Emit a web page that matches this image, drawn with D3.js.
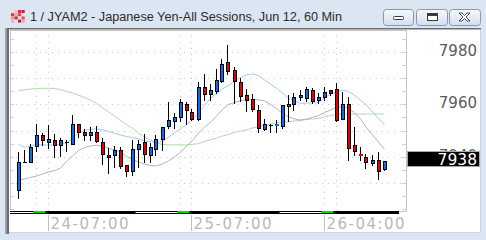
<!DOCTYPE html>
<html><head><meta charset="utf-8">
<script src="https://cdn.jsdelivr.net/npm/d3@7"></script>
<style>html,body{margin:0;padding:0;background:#dce6f2;overflow:hidden}</style>
</head><body>
<svg id="c" width="486" height="240" xmlns="http://www.w3.org/2000/svg"></svg>
<script>
const titleText = "1 / JYAM2 - Japanese Yen-All Sessions, Jun 12, 60 Min";
const opens  = [7927.1,7938.0,7937.9,7944.2,7948.3,7945.5,7946.3,7944.4,7945.7,7944.7,7952.4,7949.4,7948.2,7949.3,7945.5,7940.6,7940.5,7942.4,7936.8,7934.7,7942.8,7945.5,7940.6,7942.8,7946.6,7951.7,7953.7,7955.0,7960.0,7957.0,7954.5,7966.5,7963.8,7965.1,7969.0,7976.0,7973.1,7968.4,7963.4,7961.9,7957.8,7950.5,7952.1,7952.0,7951.8,7959.5,7960.0,7962.6,7962.5,7965.5,7961.5,7962.7,7965.3,7965.7,7954.3,7960.1,7944.5,7941.0,7939.8,7937.7,7938.6,7935.2];
const closes = [7937.9,7938.0,7943.7,7948.3,7946.5,7946.6,7944.4,7946.4,7945.7,7952.4,7949.3,7948.2,7949.4,7946.1,7940.9,7939.7,7942.5,7936.6,7934.7,7942.9,7944.8,7940.9,7943.6,7946.7,7951.2,7954.0,7955.1,7960.8,7957.7,7954.3,7966.5,7963.8,7965.3,7969.3,7975.4,7972.8,7969.0,7963.3,7961.6,7958.1,7951.1,7952.4,7952.1,7952.5,7959.6,7960.0,7962.7,7963.5,7965.8,7961.3,7962.7,7964.6,7964.4,7954.0,7960.1,7943.4,7942.3,7940.5,7937.9,7938.6,7934.7,7938.5];
const highs  = [7941.9,7942.4,7944.8,7952.5,7949.2,7952.2,7948.5,7947.0,7946.4,7955.9,7952.4,7950.7,7951.3,7951.7,7947.0,7943.3,7944.1,7943.8,7936.8,7946.4,7946.4,7948.7,7945.1,7948.3,7951.2,7960.9,7956.7,7962.0,7960.8,7958.2,7968.4,7971.6,7967.6,7973.4,7977.2,7982.6,7974.4,7969.9,7965.7,7963.8,7959.7,7954.3,7952.4,7954.0,7959.6,7963.5,7964.4,7965.5,7966.7,7966.2,7964.4,7966.5,7965.3,7968.2,7964.8,7962.9,7951.5,7943.6,7941.0,7940.6,7941.7,7938.5];
const lows   = [7924.4,7938.0,7937.9,7942.2,7944.5,7943.4,7939.8,7940.3,7942.2,7944.7,7947.4,7946.4,7946.5,7945.6,7937.1,7933.9,7935.9,7935.7,7932.8,7932.9,7935.9,7938.1,7937.9,7940.5,7942.4,7951.0,7951.0,7953.6,7952.4,7954.0,7954.1,7961.8,7961.6,7964.4,7968.4,7971.5,7960.6,7961.3,7957.6,7957.4,7949.3,7950.2,7949.3,7949.3,7951.1,7953.7,7957.8,7961.5,7961.1,7960.5,7960.5,7961.6,7963.5,7953.6,7954.3,7938.7,7940.6,7938.7,7935.8,7936.8,7931.4,7935.0];
// moving averages (light blue, grey, light green)
const maBlue  = [7944.7,7943.6,7944.1,7944.7,7944.5,7944.5,7944.5,7944.7,7945.2,7947.1,7949.0,7950.0,7950.5,7950.6,7950.2,7949.6,7949.0,7948.3,7947.7,7947.3,7946.8,7946.0,7945.7,7945.5,7946.0,7947.5,7949.2,7950.6,7952.3,7954.0,7956.7,7959.7,7962.3,7964.1,7965.8,7967.2,7968.9,7970.2,7971.2,7971.6,7971.0,7969.3,7967.7,7966.1,7964.3,7962.3,7961.3,7960.4,7960.4,7960.5,7960.7,7962.4,7963.9,7964.8,7965.3,7964.9,7963.5,7961.6,7959.7,7957.1,7954.6,7952.1];
const maGrey  = [7931.1,7931.5,7932.1,7932.6,7933.4,7934.2,7934.7,7935.6,7938.2,7940.3,7942.4,7943.5,7944.1,7944.4,7944.1,7943.3,7942.6,7941.8,7940.1,7938.9,7938.0,7937.2,7936.6,7936.5,7937.2,7938.4,7939.9,7941.6,7944.1,7946.2,7949.0,7951.3,7953.1,7955.5,7958.0,7959.9,7960.7,7961.4,7961.8,7961.9,7961.7,7961.3,7959.9,7958.4,7956.5,7955.2,7954.4,7954.0,7954.4,7955.0,7955.7,7956.9,7957.8,7958.8,7959.1,7958.6,7956.7,7954.4,7951.0,7948.3,7945.6,7942.8];
const maGreen = [7965.3,7965.5,7965.8,7966.0,7966.1,7966.1,7966.0,7965.6,7964.9,7964.3,7963.5,7962.6,7961.6,7960.3,7958.6,7957.1,7955.5,7953.8,7952.3,7950.8,7949.0,7947.5,7946.3,7945.2,7944.7,7944.5,7944.5,7944.5,7944.5,7944.7,7945.0,7945.8,7946.4,7947.1,7947.9,7948.5,7949.2,7949.8,7950.2,7951.0,7951.5,7952.1,7952.5,7952.9,7953.2,7953.4,7953.6,7953.8,7954.2,7954.4,7954.6,7955.2,7955.7,7956.2,7956.3,7956.3,7956.3,7956.3,7956.3,7956.3,7956.3,7956.3];
const yTickValues = [7940, 7960, 7980];
const lastPrice = 7938;
const xTickIndex  = [5, 29, 51];
const xTickLabels = ["24-07:00", "25-07:00", "26-04:00"];
const vGridIndex = [3, 5, 27, 29, 51, 53];
// session strip: [from index, to index, kind]
const sessions = [[-2, 2.5, "w"], [2.5, 4.5, "g"], [4.5, 19.5, "b"], [19.5, 26.5, "w"], [26.5, 28.5, "g"], [28.5, 43.5, "b"], [43.5, 50.5, "w"], [50.5, 52.5, "g"], [52.5, 63.5, "b"]];

const svg = d3.select("#c");
const W = 486, H = 240;
const plot = {l: 10, t: 30, r: 406, b: 211};

// window background
svg.append("rect").attr("width", W).attr("height", H).attr("fill", "#dce6f2");
const defs = svg.append("defs");
const g1 = defs.append("linearGradient").attr("id", "btn").attr("x1", 0).attr("y1", 0).attr("x2", 0).attr("y2", 1);
g1.append("stop").attr("offset", "0%").attr("stop-color", "#f6f9fd");
g1.append("stop").attr("offset", "100%").attr("stop-color", "#d3dfee");

// icon
const icon = svg.append("g").attr("transform", "translate(11,10)");
const iconCells = [[0,1,"#e03040"],[1,1,"#f0a0a8"],[3,0,"#d02030"],[2,1,"#e04050"],[0,2,"#f09098"],[1,2,"#d82838"],[3,2,"#e05060"],[2,3,"#d02030"],[0,3,"#f0b0b8"],[3,3,"#f0a0a8"],[1,0,"#f0c0c8"],[2,0,"#e03040"]];
iconCells.forEach(c => icon.append("rect").attr("x", c[0]*3.5).attr("y", c[1]*3.2).attr("width", 3.2).attr("height", 3).attr("fill", c[2]));

// title
svg.append("text").attr("x", 30).attr("y", 20.5).attr("font-family", "Liberation Sans, Arial, sans-serif")
  .attr("font-size", 12.5).attr("fill", "#2a2a2a").attr("textLength", 312).attr("lengthAdjust", "spacingAndGlyphs").text(titleText);

// buttons
const btns = [[383, 30], [416, 31], [449, 31]];
btns.forEach(b => svg.append("rect").attr("x", b[0] + 0.5).attr("y", 9.5).attr("width", b[1]).attr("height", 16)
  .attr("rx", 3).attr("fill", "url(#btn)").attr("stroke", "#8797b0"));
svg.append("rect").attr("x", 393.5).attr("y", 16.5).attr("width", 10).attr("height", 3).attr("rx", 1).attr("fill", "#fff").attr("stroke", "#3a3a3a");
svg.append("rect").attr("x", 427.5).attr("y", 13.5).attr("width", 10).attr("height", 7).attr("fill", "#fff").attr("stroke", "#3a3a3a");
svg.append("rect").attr("x", 428).attr("y", 14).attr("width", 9).attr("height", 2).attr("fill", "#3a3a3a");
svg.append("path").attr("d", "M459,13 L462,13 L464.5,15.5 L467,13 L470,13 L466,17 L470,21 L467,21 L464.5,18.5 L462,21 L459,21 L463,17 Z")
  .attr("fill", "#fff").attr("stroke", "#3a3a3a").attr("stroke-width", 0.9);

// chart panel
svg.append("rect").attr("x", 8).attr("y", 28).attr("width", 473).attr("height", 205).attr("fill", "#ffffff");
svg.append("rect").attr("x", 480).attr("y", 28).attr("width", 1).attr("height", 205).attr("fill", "#d0d4da");
svg.append("rect").attr("x", 8).attr("y", 232).attr("width", 473).attr("height", 1).attr("fill", "#d0d4da");
svg.append("rect").attr("x", 5).attr("y", 28).attr("width", 3).attr("height", 206).attr("fill", "#9a9ea4");
svg.append("rect").attr("x", 7).attr("y", 28).attr("width", 2).attr("height", 206).attr("fill", "#6c6c6c");
svg.append("rect").attr("x", 7).attr("y", 28).attr("width", 474).attr("height", 1.5).attr("fill", "#6c6c6c");

// scales
const x = d3.scaleLinear().domain([0, 61]).range([18.5, 384.5]);
const y = d3.scaleLinear().domain([7920, 7980]).range([209.1, 51.9]);

// grid
const gridCol = "#c9c9c9";
const hGrid = d3.range(7930, 7990, 10);
svg.append("g").selectAll("line").data(hGrid).join("line")
  .attr("x1", plot.l).attr("x2", plot.r).attr("y1", d => Math.round(y(d)) + 0.5).attr("y2", d => Math.round(y(d)) + 0.5)
  .attr("stroke", gridCol).attr("stroke-dasharray", "1,5");
svg.append("g").selectAll("line").data(vGridIndex).join("line")
  .attr("x1", d => Math.round(x(d)) - 0.5).attr("x2", d => Math.round(x(d)) - 0.5).attr("y1", plot.t).attr("y2", plot.b)
  .attr("stroke", gridCol).attr("stroke-dasharray", "1,5");
// minor edge ticks
const minor = d3.range(7920, 7990, 5);
svg.append("g").selectAll("line").data(minor).join("line")
  .attr("x1", plot.l).attr("x2", plot.l + 4).attr("y1", d => Math.round(y(d)) + 0.5).attr("y2", d => Math.round(y(d)) + 0.5)
  .attr("stroke", "#d0d0d0");
svg.append("g").selectAll("line").data(minor).join("line")
  .attr("x1", plot.r - 4).attr("x2", plot.r).attr("y1", d => Math.round(y(d)) + 0.5).attr("y2", d => Math.round(y(d)) + 0.5)
  .attr("stroke", "#d0d0d0");

// plot border
svg.append("rect").attr("x", plot.l + 0.5).attr("y", plot.t + 0.5).attr("width", plot.r - plot.l).attr("height", plot.b - plot.t)
  .attr("fill", "none").attr("stroke", "#c4c4c4");

// moving averages
const line = arr => d3.line().x((d, i) => x(i)).y(d => y(d))(arr);
[[maGreen, "#b4d6ae"], [maGrey, "#b2b2b2"], [maBlue, "#a6c8ee"]].forEach(m =>
  svg.append("path").attr("d", line(m[0])).attr("fill", "none").attr("stroke", m[1]).attr("stroke-width", 1));

// candles
const UP = "#0a6cf0", DN = "#e40000";
const cg = svg.append("g");
opens.forEach((o, i) => {
  const c = closes[i], h = highs[i], l = lows[i];
  const cx = Math.round(x(i));
  cg.append("line").attr("x1", cx - 0.5).attr("x2", cx - 0.5).attr("y1", Math.round(y(h))).attr("y2", Math.round(y(l)) + 1)
    .attr("stroke", "#000");
  const yt = Math.round(y(Math.max(o, c))), yb = Math.round(y(Math.min(o, c)));
  if (o === c) {
    cg.append("rect").attr("x", cx - 2).attr("y", yt).attr("width", 4).attr("height", 1).attr("fill", "#000");
  } else if (yb - yt < 2) {
    cg.append("rect").attr("x", cx - 2).attr("y", yt).attr("width", 4).attr("height", 2).attr("fill", c > o ? UP : DN);
  } else {
    cg.append("rect").attr("x", cx - 1.5).attr("y", yt + 0.5).attr("width", 3).attr("height", yb - yt)
      .attr("fill", c > o ? UP : DN).attr("stroke", "#000");
  }
});

// session strip
const sx = v => Math.max(plot.l, Math.min(399, x(v)));
svg.append("rect").attr("x", plot.l).attr("y", 211).attr("width", 399 - plot.l).attr("height", 3).attr("fill", "#000");
sessions.forEach(s => {
  if (s[2] === "w") svg.append("rect").attr("x", sx(s[0])).attr("y", 212).attr("width", sx(s[1]) - sx(s[0])).attr("height", 1).attr("fill", "#fff");
  if (s[2] === "g") svg.append("rect").attr("x", sx(s[0])).attr("y", 211).attr("width", sx(s[1]) - sx(s[0])).attr("height", 2).attr("fill", "#00e000");
});

// x axis labels
xTickIndex.forEach((idx, k) => {
  const tx = Math.round(x(idx)) - 0.5;
  svg.append("line").attr("x1", tx).attr("x2", tx).attr("y1", 215).attr("y2", 231).attr("stroke", "#c0c0c0");
  svg.append("text").attr("x", tx + 2).attr("y", 229).attr("font-family", "DejaVu Sans, sans-serif").attr("font-size", 15)
    .attr("fill", "#b8b8b8").attr("textLength", 78).attr("lengthAdjust", "spacing").text(xTickLabels[k]);
});

// y axis labels
svg.append("g").selectAll("text").data(yTickValues).join("text")
  .attr("x", 477).attr("y", d => y(d) + 4).attr("text-anchor", "end")
  .attr("font-family", "DejaVu Sans, sans-serif").attr("font-size", 15).attr("fill", "#5a5a5a").text(d => d);

// last price box
const ly = y(lastPrice);
svg.append("rect").attr("x", 407.5).attr("y", 151.5).attr("width", 72).attr("height", 15).attr("fill", "#000").attr("stroke", "#a8a8a8");
svg.append("text").attr("x", 477).attr("y", 164.5).attr("text-anchor", "end").attr("font-family", "DejaVu Sans, sans-serif")
  .attr("font-size", 15.5).attr("fill", "#fff").text(lastPrice);
</script>
</body></html>
